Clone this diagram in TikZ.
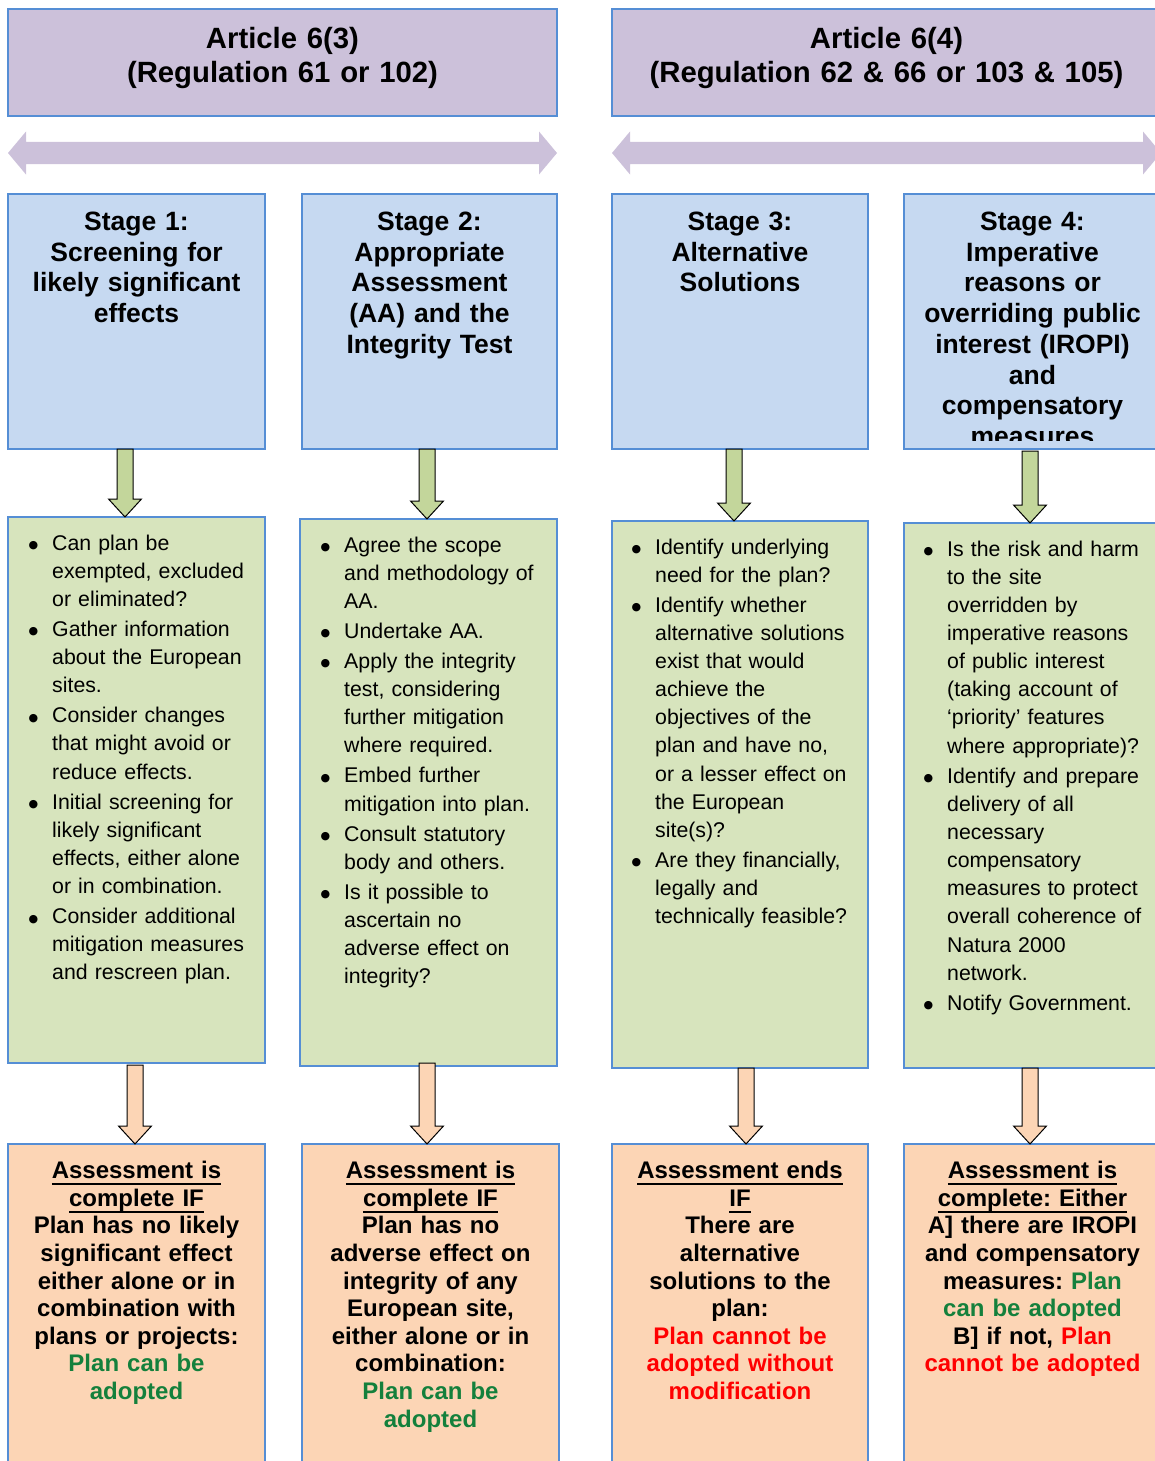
\documentclass[tikz,border=0pt]{standalone}
\usepackage{fontspec}
\setmainfont{Liberation Sans}
\newfontfamily\djv{DejaVu Sans}
\usetikzlibrary{calc}
\frenchspacing
\definecolor{bordc}{RGB}{85,142,213}
\definecolor{hdrfill}{RGB}{204,193,218}
\definecolor{stfill}{RGB}{198,217,241}
\definecolor{grfill}{RGB}{215,228,189}
\definecolor{orfill}{RGB}{252,213,181}
\definecolor{garfill}{RGB}{195,214,155}
\definecolor{okgreen}{RGB}{20,128,60}
\definecolor{nored}{RGB}{255,0,0}
\newsavebox\ulbox
\newcommand\ulin[1]{\leavevmode\sbox\ulbox{#1}\rlap{\rule[-6.3pt]{\wd\ulbox}{1.9pt}}\usebox\ulbox}
\newcommand\bul{\leavevmode\llap{\raisebox{1.5pt}{\djv\fontsize{11}{11}\selectfont ●}\hspace{14pt}}}
\newcommand\blockarrow[3]{\draw[#1] let \p1=(#2), \p2=(#3) in
  (\x1-8pt,\y1) -- (\x1+8pt,\y1) -- (\x1+8pt,\y2+18pt) -- (\x1+16.5pt,\y2+18pt)
  -- (\x1,\y2) -- (\x1-16.5pt,\y2+18pt) -- (\x1-8pt,\y2+18pt) -- cycle;}
\newcommand\dblarrow[2]{\fill[hdrfill] let \p1=(#1), \p2=(#2) in
  (\x1,\y1) -- (\x1+18pt,\y1+21.5pt) -- (\x1+18pt,\y1+11pt) -- (\x2-18pt,\y2+11pt)
  -- (\x2-18pt,\y2+21.5pt) -- (\x2,\y2) -- (\x2-18pt,\y2-21.5pt) -- (\x2-18pt,\y2-11pt)
  -- (\x1+18pt,\y1-11pt) -- (\x1+18pt,\y1-21.5pt) -- cycle;}
\tikzset{
  box/.style={draw=bordc, line width=2pt, anchor=north west, inner sep=0pt, outer sep=0pt},
  hdrbox/.style={box, fill=hdrfill},
  stbox/.style={box, fill=stfill},
  grbox/.style={box, fill=grfill},
  orbox/.style={box, fill=orfill},
  garrow/.style={draw=black, line width=1pt, fill=garfill},
  oarrow/.style={draw=black, line width=1pt, fill=orfill},
  hdrtxt/.style={anchor=base, text width=540pt, align=center, inner sep=0pt,
    font=\bfseries\fontsize{29.3}{34}\selectfont},
  sttxt/.style={anchor=base, text width=250pt, align=center, inner sep=0pt,
    font=\bfseries\fontsize{26.5}{30.7}\selectfont},
  bttxt/.style={anchor=base, text width=255pt, align=center, inner sep=0pt,
    font=\bfseries\fontsize{24}{27.6}\selectfont},
  blist/.style={anchor=base west, text width=225pt, align=left, inner sep=0pt,
    font=\fontsize{21.3}{28.15}\selectfont},
}
\begin{document}
\begin{tikzpicture}[x=1pt,y=-1pt]
\useasboundingbox (0,0) rectangle (1155,1461);
\clip (0,0) rectangle (1155,1461);
% header boxes
\node[hdrbox, minimum width=549pt, minimum height=107pt] (art1) at (8,9) {};
\node[hdrbox, minimum width=549pt, minimum height=107pt] (art2) at (612,9) {};
\node[hdrtxt] (art1t) at ($(art1.north)+(0,40)$) {Article 6(3)\\(Regulation 61 or 102)};
\node[hdrtxt] (art2t) at ($(art2.north)+(0,40)$) {Article 6(4)\\(Regulation 62 \& 66 or 103 \& 105)};
% double arrows
\coordinate (da1l) at (8,153); \coordinate (da1r) at (557,153);
\coordinate (da2l) at (612,153); \coordinate (da2r) at (1161,153);
\dblarrow{da1l}{da1r}
\dblarrow{da2l}{da2r}
% stage boxes
\node[stbox, minimum width=257pt, minimum height=255pt] (st1) at (8,194) {};
\node[stbox, minimum width=255pt, minimum height=255pt] (st2) at (302,194) {};
\node[stbox, minimum width=256pt, minimum height=255pt] (st3) at (612,194) {};
\node[stbox, minimum width=257pt, minimum height=255pt] (st4) at (904,194) {};
\node[sttxt] (st1t) at ($(st1.north)+(0,36.5)$) {Stage 1:\\Screening for\\likely significant\\effects};
\node[sttxt] (st2t) at ($(st2.north)+(0,36.5)$) {Stage 2:\\Appropriate\\Assessment\\(AA) and the\\Integrity Test};
\node[sttxt] (st3t) at ($(st3.north)+(0,36.5)$) {Stage 3:\\Alternative\\Solutions};
\begin{scope}
\clip (904,194) rectangle (1161,440);
\node[sttxt] (st4t) at ($(st4.north)+(0,36.5)$) {Stage 4:\\Imperative\\reasons or\\overriding public\\interest (IROPI)\\and\\compensatory\\measures};
\end{scope}
% green boxes
\node[grbox, minimum width=257pt, minimum height=546pt] (g1) at (8,517) {};
\node[grbox, minimum width=257pt, minimum height=547pt] (g2) at (300,519) {};
\node[grbox, minimum width=256pt, minimum height=547pt] (g3) at (612,521) {};
\node[grbox, minimum width=257pt, minimum height=545pt] (g4) at (904,523) {};
\node[blist] (g1t) at ($(g1.north west)+(44,33)$) {\setlength{\parskip}{1.9pt}%
\bul Can plan be\\exempted, excluded\\or eliminated?\par
\bul Gather information\\about the European\\sites.\par
\bul Consider changes\\that might avoid or\\reduce effects.\par
\bul Initial screening for\\likely significant\\effects, either alone\\or in combination.\par
\bul Consider additional\\mitigation measures\\and rescreen plan.};
\node[blist] (g2t) at ($(g2.north west)+(44,33)$) {\setlength{\parskip}{1.9pt}%
\bul Agree the scope\\and methodology of\\AA.\par
\bul Undertake AA.\par
\bul Apply the integrity\\test, considering\\further mitigation\\where required.\par
\bul Embed further\\mitigation into plan.\par
\bul Consult statutory\\body and others.\par
\bul Is it possible to\\ascertain no\\adverse effect on\\integrity?};
\node[blist] (g3t) at ($(g3.north west)+(43,33)$) {\setlength{\parskip}{1.9pt}%
\bul Identify underlying\\need for the plan?\par
\bul Identify whether\\alternative solutions\\exist that would\\achieve the\\objectives of the\\plan and have no,\\or a lesser effect on\\the European\\site(s)?\par
\bul Are they financially,\\legally and\\technically feasible?};
\node[blist] (g4t) at ($(g4.north west)+(43,33)$) {\setlength{\parskip}{1.9pt}%
\bul Is the risk and harm\\to the site\\overridden by\\imperative reasons\\of public interest\\(taking account of\\‘priority’ features\\where appropriate)?\par
\bul Identify and prepare\\delivery of all\\necessary\\compensatory\\measures to protect\\overall coherence of\\Natura 2000\\network.\par
\bul Notify Government.};
% orange boxes
\node[orbox, minimum width=257pt, minimum height=340pt] (o1) at (8,1144) {};
\node[orbox, minimum width=257pt, minimum height=340pt] (o2) at (302,1144) {};
\node[orbox, minimum width=256pt, minimum height=340pt] (o3) at (612,1144) {};
\node[orbox, minimum width=257pt, minimum height=340pt] (o4) at (904,1144) {};
\node[bttxt] (o1t) at ($(o1.north)+(0,34.6)$) {\ulin{Assessment is}\\\ulin{complete IF}\\Plan has no likely\\significant effect\\either alone or in\\combination with\\plans or projects:\\\textcolor{okgreen}{Plan can be}\\\textcolor{okgreen}{adopted}};
\node[bttxt] (o2t) at ($(o2.north)+(0,34.6)$) {\ulin{Assessment is}\\\ulin{complete IF}\\Plan has no\\adverse effect on\\integrity of any\\European site,\\either alone or in\\combination:\\\textcolor{okgreen}{Plan can be}\\\textcolor{okgreen}{adopted}};
\node[bttxt] (o3t) at ($(o3.north)+(0,34.6)$) {\ulin{Assessment ends}\\\ulin{IF}\\There are\\alternative\\solutions to the\\plan:\\\textcolor{nored}{Plan cannot be}\\\textcolor{nored}{adopted without}\\\textcolor{nored}{modification}};
\node[bttxt] (o4t) at ($(o4.north)+(0,34.6)$) {\ulin{Assessment is}\\\ulin{complete: Either}\\A] there are IROPI\\and compensatory\\measures: \textcolor{okgreen}{Plan}\\\textcolor{okgreen}{can be adopted}\\B] if not, \textcolor{nored}{Plan}\\\textcolor{nored}{cannot be adopted}};
% green arrows
\blockarrow{garrow}{$(st1.south west)+(117,0)$}{$(g1.north west)+(117,0)$}
\blockarrow{garrow}{$(st2.south west)+(125,0)$}{$(g2.north west)+(127,0)$}
\blockarrow{garrow}{$(st3.south west)+(122,0)$}{$(g3.north west)+(122,0)$}
\blockarrow{garrow}{$(st4.south west)+(126,2)$}{$(g4.north west)+(126,0)$}
% orange arrows
\blockarrow{oarrow}{$(g1.south west)+(127,2)$}{$(o1.north west)+(127,0)$}
\blockarrow{oarrow}{$(g2.south west)+(127,-3)$}{$(o2.north west)+(125,0)$}
\blockarrow{oarrow}{$(g3.south west)+(134,0)$}{$(o3.north west)+(134,0)$}
\blockarrow{oarrow}{$(g4.south west)+(126,0)$}{$(o4.north west)+(126,0)$}
\end{tikzpicture}
\end{document}
